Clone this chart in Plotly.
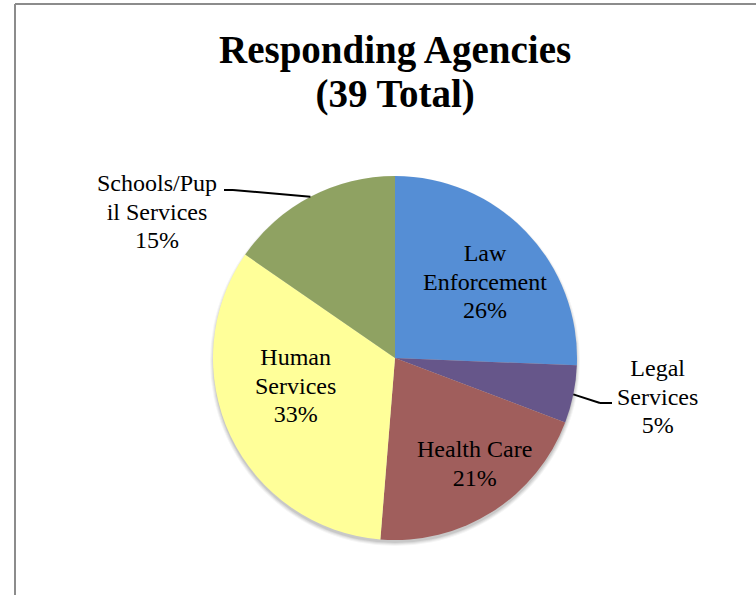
import math
import plotly.graph_objects as go

# Agencies that responded, by sector (39 in total)
categories = ["Law\nEnforcement", "Legal\nServices", "Health Care", "Human\nServices", "Schools/Pup\nil Services"]
counts = [10, 2, 8, 13, 6]
colors = ["#558ED5", "#66568A", "#A05E5C", "#FFFF99", "#8FA262"]

title_lines = ["Responding Agencies", "(39 Total)"]

W, H = 756, 595
# pie geometry in pixels
CX, CY, R = 395, 358, 182

def px(x):
    return x / W

def py(y):
    return 1 - y / H

total = sum(counts)
percents = [round(c / total * 100) for c in counts]

fig = go.Figure()
fig.add_trace(go.Pie(
    labels=[c.replace("\n", " ") for c in categories],
    values=counts,
    sort=False,
    direction="clockwise",
    rotation=0,
    marker=dict(colors=colors, line=dict(width=0)),
    textinfo="none",
    hoverinfo="label+value+percent",
    showlegend=False,
    domain=dict(x=[px(CX - R), px(CX + R)], y=[py(CY + R), py(CY - R)]),
))

FONT = "Liberation Serif"

def block(lines, size, bold=False):
    # the base font sets the line pitch (1.3em); the span sets the glyph size
    parts = []
    for ln in lines:
        t = f"<b>{ln}</b>" if bold else ln
        parts.append(f"<span style='font-size:{size}px'>{t}</span>")
    return "<br>".join(parts)

annotations = []

# title: 39px glyphs on a 44px line pitch
annotations.append(dict(
    text=block(title_lines, 39, bold=True), x=px(CX), y=py(72),
    xref="paper", yref="paper", xanchor="center", yanchor="middle",
    showarrow=False, font=dict(family=FONT, size=44 / 1.3, color="black"),
))

# label blocks: (center x, center y of the first line)
label_pos = [(485, 253), (657, 368), (474, 449), (295, 357), (157, 183)]
LINE_GAP = 28.6
for cat, pct, (lx, ly) in zip(categories, percents, label_pos):
    lines = cat.split("\n") + [f"{pct}%"]
    yc = ly + (len(lines) - 1) * LINE_GAP / 2
    annotations.append(dict(
        text=block(lines, 24), x=px(lx), y=py(yc),
        xref="paper", yref="paper", xanchor="center", yanchor="middle",
        showarrow=False, font=dict(family=FONT, size=22, color="black"),
    ))

shapes = []

# soft drop shadow under the pie
for k, op in [(5, 0.04), (4, 0.05), (3, 0.06), (2, 0.08)]:
    shapes.append(dict(
        type="circle", xref="paper", yref="paper", layer="below",
        x0=px(CX - R - k + 2), x1=px(CX + R + k - 2),
        y0=py(CY + R + k + 1), y1=py(CY - R - k + 5),
        fillcolor=f"rgba(0,0,0,{op})", line=dict(width=0),
    ))

# leader lines from slice midpoints to outside labels
cum = 0
mid_pts = []
for c in counts:
    ang = (cum + c / 2) / total * 2 * math.pi
    mid_pts.append((CX + R * math.sin(ang), CY - R * math.cos(ang)))
    cum += c

def seg(x0, y0, x1, y1):
    return dict(type="line", xref="paper", yref="paper",
                x0=px(x0), y0=py(y0), x1=px(x1), y1=py(y1),
                line=dict(color="black", width=2))

# Schools/Pupil Services
sx, sy = mid_pts[4]
shapes.append(seg(224, 190, 233, 190))
shapes.append(seg(233, 190, sx, sy))
# Legal Services
lx_, ly_ = mid_pts[1]
shapes.append(seg(lx_, ly_, 600, 403))
shapes.append(seg(600, 403, 612, 403))

# chart area frame
shapes.append(dict(type="line", xref="paper", yref="paper",
                   x0=px(15), y0=py(4), x1=px(15), y1=py(620),
                   line=dict(color="#8C8C8C", width=2)))
shapes.append(dict(type="line", xref="paper", yref="paper",
                   x0=px(15), y0=py(4), x1=px(800), y1=py(4),
                   line=dict(color="#8C8C8C", width=2)))

fig.update_layout(
    width=W, height=H,
    margin=dict(l=0, r=0, t=0, b=0),
    paper_bgcolor="white",
    plot_bgcolor="white",
    annotations=annotations,
    shapes=shapes,
)

fig.write_html("out.html")
